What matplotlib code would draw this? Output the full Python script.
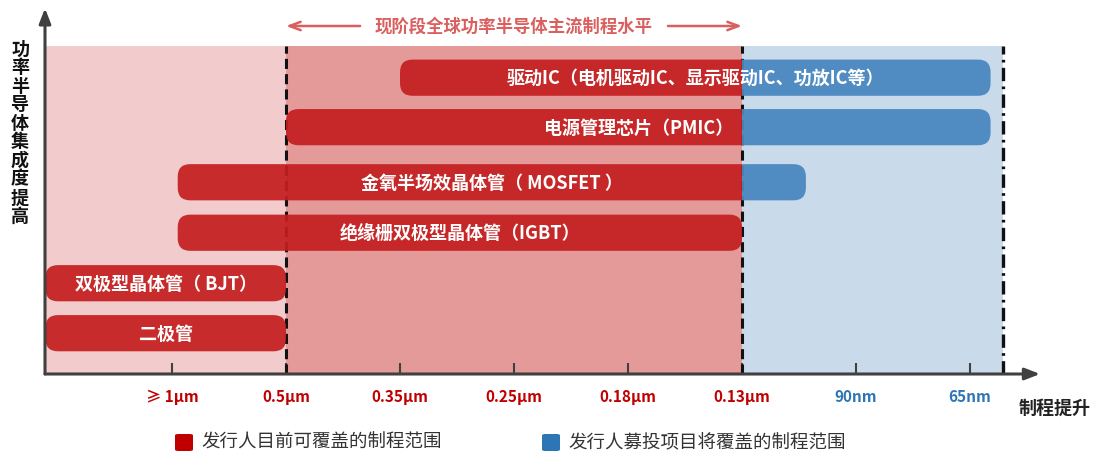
import matplotlib.pyplot as plt
from matplotlib.patches import FancyBboxPatch, Rectangle

plt.rcParams['font.family'] = ['Noto Sans CJK SC', 'DejaVu Sans']

# process nodes (x positions are tick index)
tick_labels = ['≥ 1μm', '0.5μm', '0.35μm', '0.25μm', '0.18μm', '0.13μm', '90nm', '65nm']
tick_colors = ['#c00000'] * 6 + ['#2e75b6'] * 2

# device bars: start / end along the process axis, row level
bar_labels = ['驱动IC（电机驱动IC、显示驱动IC、功放IC等）',
              '电源管理芯片（PMIC）',
              '金氧半场效晶体管（ MOSFET ）',
              '绝缘栅双极型晶体管（IGBT）',
              '双极型晶体管（ BJT）',
              '二极管']
bar_start = [2.0, 1.0, 0.05, 0.05, -1.11, -1.11]
bar_end = [7.18, 7.18, 5.56, 5.0, 1.0, 1.0]
bar_level = [5.81, 4.84, 3.76, 2.77, 1.78, 0.80]

current_range = (1, 5)   # 0.5μm .. 0.13μm
x_min, x_max = -1.114, 7.289

RED = '#c41f20'
BLUE = '#4a88c0'

W, H = 1097, 456
fig = plt.figure(figsize=(W / 100, H / 100), dpi=100)
ax = fig.add_axes([45 / W, 81 / H, (1003 - 45) / W, 328 / H])
ax.set_xlim(x_min, x_max)
ax.set_ylim(0, 328 / 51)
for s in ax.spines.values():
    s.set_visible(False)

# background zones
ax.axvspan(x_min, current_range[0], color='#f2cbcc', lw=0)
ax.axvspan(current_range[0], current_range[1], color='#e59a9a', lw=0)
ax.axvspan(current_range[1], x_max, color='#c9daea', lw=0)

for xv in current_range:
    ax.axvline(xv, color='#111111', lw=2.2, dashes=(3.3, 1.7), zorder=2)
ax.axvline(x_max, color='#111111', lw=2.4, ls=(0, (4, 1.6, 0.8, 1.6)), zorder=2,
           clip_on=False)

# bars
aspect = 114 / 51
bh = 0.71
for lab, x0, x1, lv in zip(bar_labels, bar_start, bar_end, bar_level):
    kw = dict(boxstyle='round,pad=0,rounding_size=0.11', mutation_aspect=aspect,
              lw=0, zorder=3)
    red = FancyBboxPatch((x0, lv - bh / 2), x1 - x0, bh, fc=RED, alpha=0.93, **kw)
    ax.add_patch(red)
    if x1 > current_range[1]:
        clip_red = Rectangle((x_min, 0), current_range[1] - x_min, 10, transform=ax.transData)
        red.set_clip_path(clip_red)
        blue = FancyBboxPatch((x0, lv - bh / 2), x1 - x0, bh, fc=BLUE, alpha=0.95, **kw)
        ax.add_patch(blue)
        clip_blue = Rectangle((current_range[1], 0), 10, 10, transform=ax.transData)
        blue.set_clip_path(clip_blue)
    ax.text((x0 + x1) / 2, lv, lab, ha='center', va='center', color='white',
            fontsize=13, fontweight='bold', zorder=4)

# ticks
ax.set_xticks(range(len(tick_labels)))
ax.set_xticklabels(tick_labels, fontsize=11, fontweight='bold')
for t, c in zip(ax.get_xticklabels(), tick_colors):
    t.set_color(c)
ax.tick_params(axis='x', direction='in', length=8, width=1.5, color='#404040', pad=10)
ax.set_yticks([])

# axis arrows
ax.annotate('', xy=(7.614, 0), xytext=(x_min, 0), xycoords=('data', 'axes fraction'),
            arrowprops=dict(arrowstyle='-|>,head_length=0.9,head_width=0.35', color='#404040',
                            lw=2.2, shrinkA=0, shrinkB=0), annotation_clip=False)
ax.annotate('', xy=(x_min, 1.115), xytext=(x_min, 0), xycoords=('data', 'axes fraction'),
            arrowprops=dict(arrowstyle='-|>,head_length=0.9,head_width=0.35', color='#404040',
                            lw=2.2, shrinkA=0, shrinkB=0), annotation_clip=False)

# mainstream range annotation
ax.text(3, 1.061, '现阶段全球功率半导体主流制程水平', transform=ax.get_xaxis_transform(),
        ha='center', va='center', color='#d9605f', fontsize=12.5, fontweight='bold')
for a, b in [(1.65, current_range[0]), (4.35, current_range[1])]:
    ax.annotate('', xy=(b, 1.061), xytext=(a, 1.061), xycoords=('data', 'axes fraction'),
                arrowprops=dict(arrowstyle='->,head_length=0.8,head_width=0.3', color='#d9605f',
                                lw=1.8, shrinkA=0, shrinkB=0), annotation_clip=False)

# axis titles
for i, ch in enumerate('功率半导体集成度提高'):
    fig.text(20 / W, 1 - (49 + 18.6 * i) / H, ch, ha='center', va='center',
             fontsize=13, fontweight='bold', color='#111111')
fig.text(1055 / W, 1 - 408 / H, '制程提升', ha='center', va='center',
         fontsize=13, fontweight='bold', color='#222222')

# legend
for sx, col, lab in [(175, '#c00000', '发行人目前可覆盖的制程范围'),
                     (542, '#2e75b6', '发行人募投项目将覆盖的制程范围')]:
    fig.add_artist(FancyBboxPatch((sx / W, 1 - 452 / H), 18 / W, 17 / H,
                                  boxstyle='round,pad=0,rounding_size=0.003',
                                  transform=fig.transFigure, fc=col, lw=0))
    fig.text((sx + 26) / W, 1 - 443 / H, lab, ha='left', va='center',
             fontsize=13.3, color='#333333')

fig.savefig('out.png', dpi=100)
